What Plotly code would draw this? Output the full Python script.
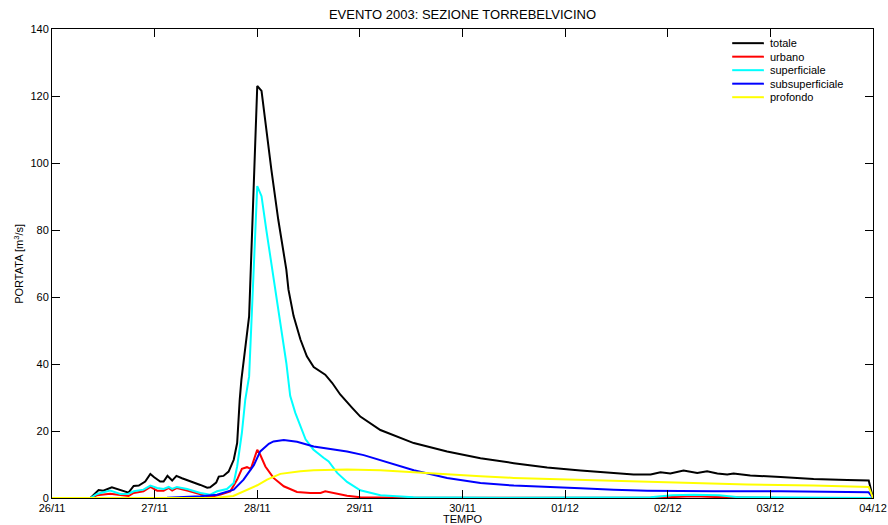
import pandas as pd
import plotly.graph_objects as go

# Hydrograph components, Torrebelvicino section, November/December 2003 event.
# Times are hours after 26/11/2003 00:00, discharges in m^3/s.
START = pd.Timestamp("2003-11-26 00:00")

t_totale = [0, 9.0, 10.9, 12.0, 14.0, 16.0, 17.9, 19.1, 20.3, 21.8, 23.0, 23.9, 25.3, 26.1,
            27.0, 28.1, 29.1, 30.4, 32.3, 34.7, 36.3, 37.0, 38.4, 39.0, 40.1, 41.3, 42.5,
            43.3, 43.9, 44.3, 46.1, 48.0, 49.0, 50.7, 51.3, 52.9, 54.8, 55.3, 56.5, 58.1,
            59.6, 61.2, 62.8, 63.9, 65.5, 67.4, 70.2, 72.1, 76.8, 84.6, 92.4, 100.2, 108.0,
            115.8, 123.6, 128.3, 132.9, 136.0, 140.0, 142.3, 144.6, 147.7, 150.9, 153.2,
            155.6, 157.9, 159.4, 163.3, 170.4, 178.1, 186.0, 191.0, 192.0]
q_totale = [0, 0, 2.4, 2.2, 3.2, 2.4, 1.6, 3.6, 3.7, 4.9, 7.2, 6.2, 4.9, 4.9,
            6.6, 5.2, 6.6, 5.9, 5.1, 3.9, 3.1, 3.2, 4.6, 6.4, 6.6, 7.9, 11.4,
            16.4, 29.3, 35.4, 54.3, 123.0, 121.5, 104.0, 98.0, 83.2, 68.2, 62.2, 54.3, 47.3,
            42.3, 39.1, 37.8, 36.8, 34.4, 30.9, 26.9, 24.3, 20.3, 16.4, 13.9, 11.9, 10.4,
            9.1, 8.2, 7.8, 7.3, 7.0, 7.0, 7.7, 7.3, 8.2, 7.5, 8.0,
            7.3, 7.0, 7.3, 6.7, 6.3, 5.7, 5.4, 5.2, 0]

t_urbano = [0, 9.0, 10.5, 13.6, 16.0, 17.9, 19.1, 21.4, 23.0, 24.6, 26.1, 27.3, 28.1, 29.2,
            31.6, 34.7, 37.0, 39.4, 41.7, 43.3, 44.4, 45.6, 46.5, 48.0, 48.7, 49.9, 51.8,
            54.2, 57.3, 60.4, 62.8, 63.9, 65.9, 69.0, 72.1, 81.5, 140.0, 146.0, 150.0,
            155.0, 161.0, 170.0, 192.0]
q_urbano = [0, 0, 0.8, 1.3, 0.9, 0.6, 1.5, 2.0, 3.3, 2.2, 2.2, 3.0, 2.2, 3.0,
            2.2, 1.0, 0.3, 1.0, 2.0, 5.5, 8.7, 9.2, 8.7, 14.4, 12.9, 9.4, 6.0,
            3.5, 1.8, 1.5, 1.5, 2.0, 1.5, 0.7, 0.2, 0.05, 0.05, 0.4, 0.5,
            0.3, 0.1, 0.0, 0.0]

t_superficiale = [0, 9.0, 10.5, 13.6, 16.0, 17.9, 19.1, 21.4, 23.0, 24.6, 26.1, 27.3, 28.1,
                  29.2, 31.6, 34.7, 37.0, 38.6, 40.9, 42.5, 43.3, 44.4, 45.2, 46.1, 48.0,
                  49.0, 50.1, 51.3, 52.5, 53.6, 54.8, 55.7, 56.9, 59.3, 61.1, 63.5, 64.7,
                  66.7, 69.0, 72.1, 76.8, 84.5, 105.0, 140.0, 145.0, 150.0, 156.0, 160.0,
                  191.0, 192.0]
q_superficiale = [0, 0, 1.2, 2.2, 1.2, 1.3, 2.0, 2.5, 3.7, 3.0, 2.7, 3.3, 2.7,
                  3.3, 2.7, 1.5, 1.0, 2.0, 2.7, 4.5, 9.4, 19.4, 29.4, 36.3, 93.1,
                  90.1, 80.2, 70.2, 60.2, 50.3, 40.3, 30.5, 25.4, 17.5, 14.5, 12.0, 10.9,
                  7.5, 4.8, 2.3, 0.8, 0.2, 0.1, 0.2, 0.8, 1.0, 0.8, 0.3,
                  0.2, 0]

t_subsuperficiale = [0, 26.9, 34.7, 38.6, 42.5, 44.8, 47.2, 48.7, 50.7, 51.8, 54.2, 57.3,
                     61.2, 63.5, 67.4, 69.0, 72.9, 76.8, 84.6, 92.4, 100.2, 108.0, 115.8,
                     123.6, 131.4, 139.2, 154.8, 170.4, 191.0, 192.0]
q_subsuperficiale = [0, 0.05, 0.5, 1.0, 2.5, 5.5, 9.8, 13.9, 16.2, 16.9, 17.3, 16.8,
                     15.4, 14.9, 14.2, 13.9, 12.8, 11.3, 8.3, 6.0, 4.5, 3.7, 3.2,
                     2.9, 2.5, 2.2, 2.0, 2.0, 1.7, 0]

t_profondo = [0, 38.6, 42.4, 45.6, 48.0, 50.3, 53.4, 58.1, 61.2, 69.0, 76.8, 84.6, 92.4,
              100.2, 108.0, 115.8, 123.6, 131.4, 147.0, 162.6, 178.1, 191.0, 192.0]
q_profondo = [0, 0.1, 0.6, 2.5, 3.8, 5.5, 7.2, 8.0, 8.3, 8.5, 8.3, 7.7, 7.0,
              6.5, 6.0, 5.7, 5.4, 5.2, 4.5, 4.0, 3.7, 3.3, 0]

series_names = ["totale", "urbano", "superficiale", "subsuperficiale", "profondo"]
series_colors = ["#000000", "#ff0000", "#00ffff", "#0000ff", "#ffff00"]
series_data = [(t_totale, q_totale), (t_urbano, q_urbano), (t_superficiale, q_superficiale),
               (t_subsuperficiale, q_subsuperficiale), (t_profondo, q_profondo)]

FONT = "Liberation Sans, Arial, Helvetica, sans-serif"

fig = go.Figure()
for name, color, (hours, flow) in zip(series_names, series_colors, series_data):
    times = START + pd.to_timedelta(hours, unit="h")
    fig.add_trace(go.Scatter(x=times, y=flow, mode="lines", name=name,
                             line=dict(color=color, width=2), showlegend=False))

# Legend drawn as short line keys with labels in the upper-right corner
key_x0, key_x1, text_x = 0.8285, 0.8671, 0.8717
key_top, key_step = 0.9698, 0.0288
for i, (name, color) in enumerate(zip(series_names, series_colors)):
    yk = key_top - i * key_step
    fig.add_shape(type="line", xref="paper", yref="paper", x0=key_x0, x1=key_x1,
                  y0=yk, y1=yk, line=dict(color=color, width=2))
    fig.add_annotation(xref="paper", yref="paper", x=text_x, y=yk, text=name,
                       showarrow=False, xanchor="left", yanchor="middle",
                       font=dict(family=FONT, size=11, color="#000000"))

axis_common = dict(showline=True, linecolor="#000000", linewidth=1, mirror="ticks",
                   ticks="inside", ticklen=8, tickwidth=1, tickcolor="#000000",
                   showgrid=False, zeroline=False, automargin=False,
                   tickfont=dict(family=FONT, size=11, color="#000000"))

fig.update_xaxes(type="date", range=[START, START + pd.Timedelta(days=8)],
                 dtick=86400000, tick0=START, tickformat="%d/%m", **axis_common)
fig.update_yaxes(range=[0, 140], dtick=20, **axis_common)

fig.add_annotation(xref="paper", yref="paper", x=0.5, y=-0.0452, yanchor="middle",
                   text="TEMPO", showarrow=False,
                   font=dict(family=FONT, size=11, color="#000000"))
fig.add_annotation(xref="paper", yref="paper", x=-0.041, y=0.5, xanchor="center",
                   yanchor="middle", textangle=-90, text="PORTATA [m<sup>3</sup>/s]",
                   showarrow=False, font=dict(family=FONT, size=11, color="#000000"))

fig.update_layout(
    width=888, height=525,
    margin=dict(l=52, r=15, t=29, b=27),
    paper_bgcolor="#ffffff", plot_bgcolor="#ffffff",
    title=dict(text="EVENTO 2003: SEZIONE TORREBELVICINO", x=0.5, xref="paper",
               xanchor="center", y=1 - 14 / 525, yanchor="middle",
               font=dict(family=FONT, size=13, color="#000000")),
)

fig.write_html("out.html")
